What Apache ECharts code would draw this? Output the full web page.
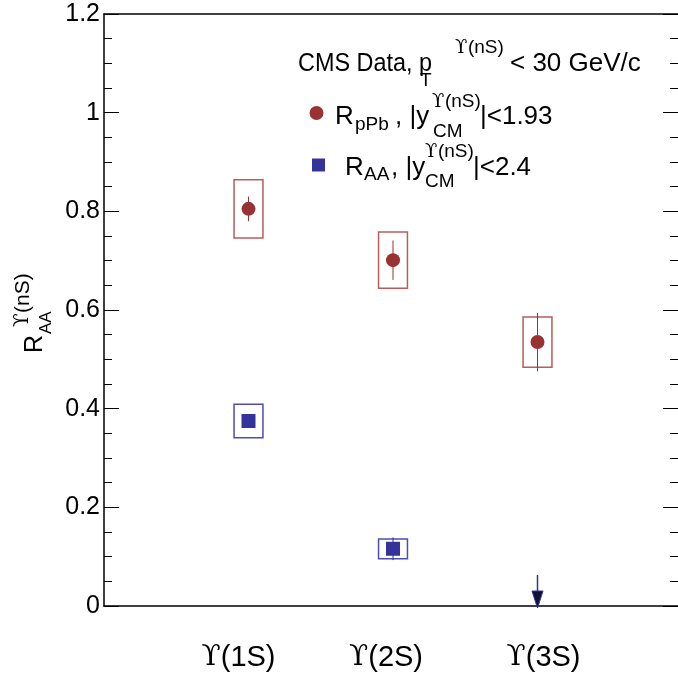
<!DOCTYPE html>
<html>
<head>
<meta charset="utf-8">
<script src="https://cdn.jsdelivr.net/npm/echarts@6/dist/echarts.min.js"></script>
<style>
  html, body { margin: 0; padding: 0; background: #fff; overflow: hidden; }
  #chart { width: 678px; height: 683px; }
</style>
</head>
<body>
<div id="chart"></div>
<script>
// Upsilon states along the x axis
const stateLabels = ['ϒ(1S)', 'ϒ(2S)', 'ϒ(3S)'];
const stateX = [1, 2, 3];

// pPb nuclear modification factor: value, statistical and systematic uncertainties
const rpPb = [0.805, 0.701, 0.535];
const rpPbStat = [0.025, 0.040, 0.059];
const rpPbSyst = [0.059, 0.057, 0.051];

// PbPb nuclear modification factor (3S only has an upper limit)
const rAA = [0.375, 0.116, null];
const rAAStat = [0.012, 0.023, null];
const rAASyst = [0.034, 0.020, null];
const rAAUpperLimit = [null, null, 0.063];

// y axis ticks
const yMin = 0, yMax = 1.2, yStep = 0.2;

const RED = '#993333', RED_BOX = '#b85c5c';
const BLUE = '#333399', BLUE_BOX = '#4d4db3';
const SANS = 'Liberation Sans, Arial, Helvetica, sans-serif';
const SERIF = 'DejaVu Serif, Liberation Serif, serif';
const BOX_HALF = 0.1;
const MAIN = 26, SMALL = 19;

const chart = echarts.init(document.getElementById('chart'), null, { renderer: 'canvas' });

function boxData(vals, errs) {
  const out = [];
  vals.forEach((v, i) => { if (v != null) out.push([stateX[i], v - errs[i], v + errs[i]]); });
  return out;
}
function pointData(vals) {
  const out = [];
  vals.forEach((v, i) => { if (v != null) out.push([stateX[i], v]); });
  return out;
}

function boxRender(color) {
  return function (params, api) {
    const x = api.value(0), lo = api.value(1), hi = api.value(2);
    const a = api.coord([x - BOX_HALF, hi]);
    const b = api.coord([x + BOX_HALF, lo]);
    return {
      type: 'rect',
      shape: { x: a[0], y: a[1], width: b[0] - a[0], height: b[1] - a[1] },
      style: { fill: 'none', stroke: color, lineWidth: 1.5 }
    };
  };
}
function barRender(color) {
  return function (params, api) {
    const x = api.value(0), lo = api.value(1), hi = api.value(2);
    const a = api.coord([x, hi]);
    const b = api.coord([x, lo]);
    return {
      type: 'line',
      shape: { x1: a[0], y1: a[1], x2: b[0], y2: b[1] },
      style: { stroke: color, lineWidth: 1 }
    };
  };
}
function arrowRender(params, api) {
  const x = api.value(0), lim = api.value(1);
  const top = api.coord([x, lim]);
  const bot = api.coord([x, 0]);
  return {
    type: 'group',
    children: [
      { type: 'line', shape: { x1: top[0], y1: top[1], x2: bot[0], y2: bot[1] - 10 },
        style: { stroke: BLUE, lineWidth: 1.5 } },
      { type: 'polygon', shape: { points: [[bot[0] - 5.5, bot[1] - 15], [bot[0] + 5.5, bot[1] - 15], [bot[0], bot[1] + 2]] },
        style: { fill: '#111133', stroke: BLUE, lineWidth: 1 } }
    ]
  };
}

// x-axis labels: serif upsilon followed by sans text, nudged per label
const labelShift = [-10, -7, 6];
const rich = {};
stateLabels.forEach((s, i) => {
  const d = labelShift[i];
  rich['u' + i] = { fontFamily: SERIF, fontSize: 28, color: '#000', padding: [0, 0, 0, d > 0 ? 2 * d : 0] };
  rich['t' + i] = { fontFamily: SANS, fontSize: 29, color: '#000', padding: [0, d < 0 ? -2 * d : 0, 0, 0] };
});

function txt(str, x, y, size, family, sx) {
  return {
    type: 'text', x: x, y: y, silent: true, scaleX: sx || 1,
    style: { text: str, fontSize: size, fontFamily: family || SANS, fill: '#000', align: 'left', verticalAlign: 'middle' }
  };
}
function sup(x, y, size) {
  return [txt('ϒ', x, y, size - 1, SERIF), txt('(nS)', x + 0.68 * size, y, size, SANS)];
}

const legend = [].concat(
  // header line
  [txt('CMS Data, p', 298, 64, MAIN, SANS, 0.9),
   txt('T', 420, 81, SMALL)],
  sup(455, 48, SMALL),
  [txt('< 30 GeV/c', 510, 64, MAIN)],
  // pPb entry
  [{ type: 'circle', shape: { cx: 316.5, cy: 113, r: 7 }, style: { fill: RED }, silent: true },
   txt('R', 335, 117, MAIN),
   txt('pPb', 355, 125, SMALL),
   txt(', |y', 395, 117, MAIN)],
  sup(432, 102, SMALL),
  [txt('CM', 433, 132, SMALL),
   txt('|<1.93', 480, 117, MAIN)],
  // PbPb entry
  [{ type: 'rect', shape: { x: 312, y: 158.5, width: 13, height: 13 }, style: { fill: BLUE }, silent: true },
   txt('R', 345, 168, MAIN),
   txt('AA', 364, 175, SMALL),
   txt(', |y', 391, 168, MAIN)],
  sup(425, 152, SMALL),
  [txt('CM', 425, 182, SMALL),
   txt('|<2.4', 473, 168, MAIN)]
);

// rotated y-axis title R_AA^{ϒ(nS)}
const yTitle = {
  type: 'group', x: 44, y: 353, rotation: Math.PI / 2, silent: true,
  children: [
    txt('R', 0, -9, 25),
    txt('AA', 19, 2, 17),
    txt('ϒ', 26, -21, 20, SERIF),
    txt('(nS)', 40, -21, 21)
  ]
};

const yAxisBase = {
  type: 'value', min: yMin, max: yMax, interval: yStep,
  axisLine: { show: true, onZero: false, lineStyle: { color: '#000', width: 1.5 } },
  splitLine: { show: false },
  minorSplitLine: { show: false }
};

const option = {
  backgroundColor: '#fff',
  animation: false,
  grid: { left: 104, width: 578, top: 14, bottom: 77, containLabel: false, outerBoundsMode: 'none' },
  xAxis: [
    {
      type: 'value', min: 0, max: 4, interval: 1, position: 'bottom',
      axisLine: { show: true, onZero: false, lineStyle: { color: '#000', width: 1.5 } },
      axisTick: { show: false },
      splitLine: { show: false },
      axisLabel: {
        margin: 37,
        formatter: function (v) {
          const i = stateX.indexOf(v);
          if (i < 0) return '';
          const s = stateLabels[i];
          return '{u' + i + '|' + s.charAt(0) + '}{t' + i + '|' + s.slice(1) + '}';
        },
        rich: rich
      }
    },
    {
      type: 'value', min: 0, max: 4, interval: 1, position: 'top',
      axisLine: { show: true, onZero: false, lineStyle: { color: '#000', width: 1.5 } },
      axisTick: { show: false }, axisLabel: { show: false }, splitLine: { show: false }
    }
  ],
  yAxis: [
    Object.assign({}, yAxisBase, {
      position: 'left',
      axisTick: { show: true, inside: true, length: 15, lineStyle: { color: '#000', width: 1 } },
      minorTick: { show: true, splitNumber: 4, length: 8, lineStyle: { color: '#000', width: 1 } },
      axisLabel: { fontSize: 25, fontFamily: SANS, color: '#000', margin: 4 }
    }),
    Object.assign({}, yAxisBase, {
      position: 'right',
      axisTick: { show: true, inside: true, length: 19, lineStyle: { color: '#000', width: 1 } },
      minorTick: { show: true, splitNumber: 4, length: 12, lineStyle: { color: '#000', width: 1 } },
      axisLabel: { show: false }
    })
  ],
  graphic: legend.concat([yTitle]),
  series: [
    { type: 'custom', name: 'pPb syst', renderItem: boxRender(RED_BOX), data: boxData(rpPb, rpPbSyst), z: 2 },
    { type: 'custom', name: 'pPb stat', renderItem: barRender(RED), data: boxData(rpPb, rpPbStat), z: 3 },
    { type: 'scatter', name: 'RpPb', data: pointData(rpPb), symbol: 'circle', symbolSize: 14,
      itemStyle: { color: RED, opacity: 1 }, z: 4 },
    { type: 'custom', name: 'AA syst', renderItem: boxRender(BLUE_BOX), data: boxData(rAA, rAASyst), z: 2 },
    { type: 'custom', name: 'AA stat', renderItem: barRender(BLUE), data: boxData(rAA, rAAStat), z: 3 },
    { type: 'scatter', name: 'RAA', data: pointData(rAA), symbol: 'rect', symbolSize: 14,
      itemStyle: { color: BLUE, opacity: 1 }, z: 4 },
    { type: 'custom', name: 'AA limit', renderItem: arrowRender, data: pointData(rAAUpperLimit), z: 3 }
  ]
};

chart.setOption(option);
</script>
</body>
</html>
